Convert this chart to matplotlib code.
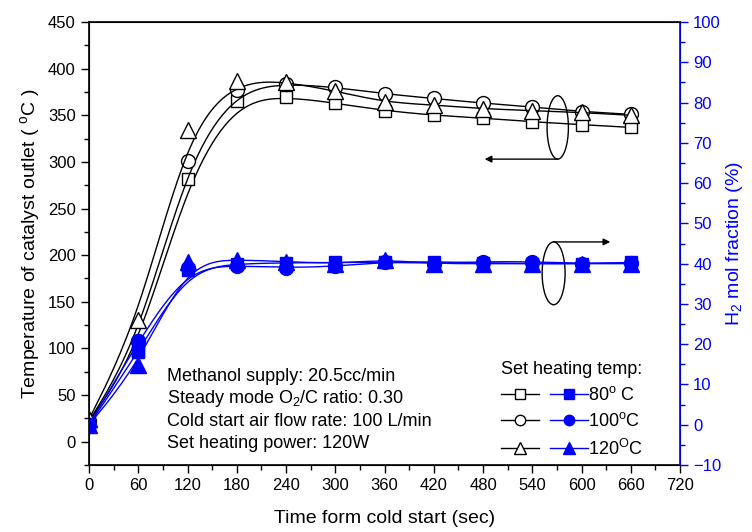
import numpy as np
import matplotlib
matplotlib.use("Agg")
import matplotlib.pyplot as plt
from matplotlib.patches import Ellipse
from matplotlib.lines import Line2D
from matplotlib.legend_handler import HandlerTuple
from matplotlib.ticker import MultipleLocator

plt.rcParams['font.family'] = ['Liberation Sans', 'DejaVu Sans']
plt.rcParams['mathtext.fontset'] = 'custom'
plt.rcParams['mathtext.rm'] = 'Liberation Sans'
plt.rcParams['mathtext.it'] = 'Liberation Sans:italic'

# time after cold start (sec)
time_s = [0, 60, 120, 180, 240, 300, 360, 420, 480, 540, 600, 660]

# catalyst outlet temperature (C) for each set heating temp
temp_80 = [22, 97, 282, 365, 370, 363, 355, 350, 347, 343, 340, 337]
temp_100 = [22, 108, 301, 377, 384, 380, 373, 368, 363, 359, 354, 351]
temp_120 = [24, 130, 334, 387, 386, 376, 364, 361, 357, 355, 353, 350]

# H2 mol fraction (%)
h2_80 = [0, 18, 38.5, 40, 40.2, 40.3, 40.3, 40.5, 40.2, 40, 40, 40.3]
h2_100 = [0, 20.7, 39, 39.5, 39, 39.3, 40.5, 40, 40.5, 40.5, 40, 40.2]
h2_120 = [0, 14.8, 40.5, 41, 40.5, 40, 41, 40, 40, 40, 40, 40]

labels = ['80$^{\\mathrm{o}}$ C', '100$^{\\mathrm{o}}$C', '120$^{\\mathrm{O}}$C']
markers = ['s', 'o', '^']
msizes = [9, 10, 11]

info_lines = ['Methanol supply: 20.5cc/min',
              'Steady mode O$_2$/C ratio: 0.30',
              'Cold start air flow rate: 100 L/min',
              'Set heating power: 120W']


def bspline(xs, ys, n=25):
    # cubic B-spline using the data as control points (Origin style)
    P = np.column_stack([xs, ys]).astype(float)
    P = np.vstack([P[0], P[0], P, P[-1], P[-1]])
    M = np.array([[-1, 3, -3, 1], [3, -6, 3, 0], [-3, 0, 3, 0], [1, 4, 1, 0]]) / 6.0
    t = np.linspace(0, 1, n)
    T = np.column_stack([t**3, t**2, t, np.ones_like(t)])
    out = [T @ M @ P[i:i + 4] for i in range(len(P) - 3)]
    out = np.vstack(out)
    return out[:, 0], out[:, 1]


fig = plt.figure(figsize=(7.52, 5.32), dpi=100)
ax = fig.add_axes([0.1184, 0.1259, 0.7859, 0.8327])
ax2 = ax.twinx()

blue = '#0000ff'
temps = [temp_80, temp_100, temp_120]
h2s = [h2_80, h2_100, h2_120]

for i in range(3):
    bx, by = bspline(time_s, temps[i])
    ax.plot(bx, by, color='k', lw=1)
    ax.plot(time_s, temps[i], ls='none', marker=markers[i], ms=msizes[i],
            mfc='white', mec='k', mew=1)
    bx, by = bspline(time_s, h2s[i])
    ax2.plot(bx, by, color=blue, lw=1)
    ax2.plot(time_s, h2s[i], ls='none', marker=markers[i], ms=msizes[i],
             mfc=blue, mec=blue, mew=1)

ax.set_xlim(0, 720)
ax.set_ylim(-25, 450)
ax2.set_ylim(-10, 100)

ax.xaxis.set_major_locator(MultipleLocator(60))
ax.xaxis.set_minor_locator(MultipleLocator(30))
ax.yaxis.set_major_locator(MultipleLocator(50))
ax.yaxis.set_minor_locator(MultipleLocator(25))
ax2.yaxis.set_major_locator(MultipleLocator(10))
ax2.yaxis.set_minor_locator(MultipleLocator(5))
ax.set_yticks(np.arange(0, 451, 50))

ax.tick_params(which='major', direction='out', length=6, width=1, labelsize=12)
ax.tick_params(which='minor', direction='out', length=3.5, width=1)
ax2.tick_params(which='major', direction='out', length=6, width=1, labelsize=12,
                colors=blue)
ax2.tick_params(which='minor', direction='out', length=3.5, width=1, colors=blue)
for s in ['left', 'bottom', 'top']:
    ax.spines[s].set_linewidth(1.2)
ax2.spines['right'].set_color(blue)
ax2.spines['right'].set_linewidth(1.2)

ax.set_xlabel('Time form cold start (sec)', fontsize=14, labelpad=12)
ax.set_ylabel('Temperature of catalyst outlet ( $^{\\mathrm{o}}$C )', fontsize=14,
              labelpad=4)
ax2.set_ylabel('H$_2$ mol fraction (%)', fontsize=14, color=blue, labelpad=2)

# condition notes
for k, line in enumerate(info_lines):
    ax.text(0.132, 0.2 - k * 0.0505, line, transform=ax.transAxes,
            fontsize=13, va='center', ha='left')

# ellipses with arrows pointing to the axis each group belongs to
ax.add_patch(Ellipse((571, 337), 26, 68, fill=False, ec='k', lw=1))
ax.annotate('', xy=(482, 303), xytext=(571, 303),
            arrowprops=dict(arrowstyle='-|>', color='k', lw=1, mutation_scale=10,
                            shrinkA=0, shrinkB=0))
ax2.add_patch(Ellipse((566, 37.6), 28, 15.6, fill=False, ec='k', lw=1))
ax2.annotate('', xy=(635, 45.4), xytext=(566, 45.4),
             arrowprops=dict(arrowstyle='-|>', color='k', lw=1, mutation_scale=10,
                             shrinkA=0, shrinkB=0))

# legend: open (temperature) and filled (H2) symbols per heating temp
handles = []
for i in range(3):
    h_open = Line2D([], [], color='k', lw=1, marker=markers[i], ms=msizes[i] - 2.5,
                    mfc='white', mec='k')
    h_fill = Line2D([], [], color=blue, lw=1, marker=markers[i], ms=msizes[i] - 2.5,
                    mfc=blue, mec=blue)
    handles.append((h_open, h_fill))
leg = ax2.legend(handles, labels, handler_map={tuple: HandlerTuple(ndivide=None, pad=0.6)},
                 loc='lower right', bbox_to_anchor=(0.955, -0.01), frameon=False,
                 title='Set heating temp:', title_fontsize=13, fontsize=13,
                 handlelength=4.8, handletextpad=0.0, labelspacing=0.45,
                 borderaxespad=0.2)

fig.savefig('out.png', dpi=100)
